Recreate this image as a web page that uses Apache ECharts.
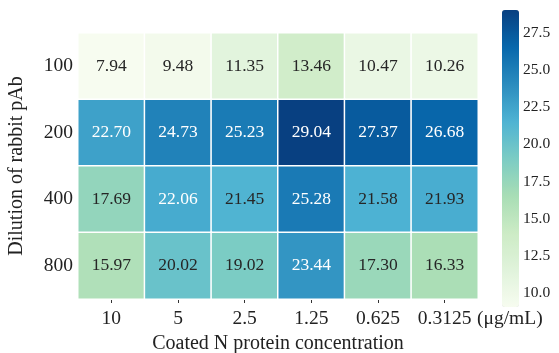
<!DOCTYPE html>
<html>
<head>
<meta charset="utf-8">
<script src="https://cdn.jsdelivr.net/npm/echarts@6/dist/echarts.min.js"></script>
<style>html,body{margin:0;padding:0;background:#fff;}#c{width:559px;height:353px;}</style>
</head>
<body>
<div id="c"></div>
<script>
const concentrations = ['10', '5', '2.5', '1.25', '0.625', '0.3125'];
const dilutions = ['100', '200', '400', '800'];
const row100 = [7.94, 9.48, 11.35, 13.46, 10.47, 10.26];
const row200 = [22.70, 24.73, 25.23, 29.04, 27.37, 26.68];
const row400 = [17.69, 22.06, 21.45, 25.28, 21.58, 21.93];
const row800 = [15.97, 20.02, 19.02, 23.44, 17.30, 16.33];
const colorbarTicks = [10, 12.5, 15, 17.5, 20, 22.5, 25, 27.5];
const scaleMin = 9.05;
const scaleMax = 29.04;

const rows = [row100, row200, row400, row800];
const gnbu = ['#f7fcf0','#e0f3db','#ccebc5','#a8ddb5','#7bccc4','#4eb3d3','#2b8cbe','#0868ac','#084081'];
const font = 'Liberation Serif';

const data = [];
rows.forEach((r, yi) => r.forEach((v, xi) => {
  data.push({value: [xi, yi, v], label: {color: v >= 22 ? '#ffffff' : '#262626'}});
}));

const chart = echarts.init(document.getElementById('c'), null, {renderer: 'canvas'});
chart.setOption({
  animation: false,
  backgroundColor: '#fff',
  textStyle: {fontFamily: font},
  grid: [
    {left: 78, right: 81, top: 33, bottom: 54, outerBoundsMode: 'none', containLabel: false},
    {left: 502, width: 17, top: 10, height: 297, outerBoundsMode: 'none', containLabel: false}
  ],
  xAxis: [{
    type: 'category', data: concentrations, gridIndex: 0,
    axisLine: {show: false},
    axisTick: {show: true, alignWithLabel: true, interval: 0, length: 4, lineStyle: {color: '#333', width: 1}},
    axisLabel: {fontFamily: font, fontSize: 19.5, color: '#222', margin: 10, interval: 0, hideOverlap: false},
    splitLine: {show: false},
    name: 'Coated N protein concentration', nameLocation: 'middle', nameGap: 31,
    nameTextStyle: {fontFamily: font, fontSize: 20, color: '#222'}
  }, {
    type: 'value', gridIndex: 1, show: false
  }],
  yAxis: [{
    type: 'category', data: dilutions, gridIndex: 0, inverse: true,
    axisLine: {show: false},
    axisTick: {show: false},
    axisLabel: {fontFamily: font, fontSize: 19.5, color: '#222', margin: 5, interval: 0},
    name: 'Dilution of rabbit pAb', nameLocation: 'middle', nameRotate: 90, nameGap: 51,
    nameTextStyle: {fontFamily: font, fontSize: 20, color: '#222'}
  }, {
    type: 'value', gridIndex: 1, position: 'right', min: scaleMin, max: scaleMax,
    axisLine: {show: false},
    axisTick: {show: false},
    splitLine: {show: false},
    axisLabel: {
      show: true, customValues: colorbarTicks, fontFamily: font, fontSize: 15.5, color: '#222', margin: 4,
      formatter: v => Number(v).toFixed(1)
    }
  }],
  visualMap: {
    type: 'continuous', min: scaleMin, max: scaleMax, seriesIndex: 0,
    calculable: false, show: true, orient: 'vertical',
    left: 502, top: 10, itemWidth: 17, itemHeight: 297, padding: 0,
    text: null, showLabel: false,
    inRange: {color: gnbu}
  },
  graphic: [{
    type: 'text', left: 477, top: 309,
    style: {text: '(μg/mL)', font: '19.5px "Liberation Serif"', fill: '#222'}
  }],
  series: [{
    type: 'heatmap', xAxisIndex: 0, yAxisIndex: 0, data: data,
    itemStyle: {borderColor: '#ffffff', borderWidth: 1.5},
    label: {show: true, fontFamily: font, fontSize: 17.5, formatter: p => p.value[2].toFixed(2)},
    emphasis: {disabled: true}
  }]
});
</script>
</body>
</html>
